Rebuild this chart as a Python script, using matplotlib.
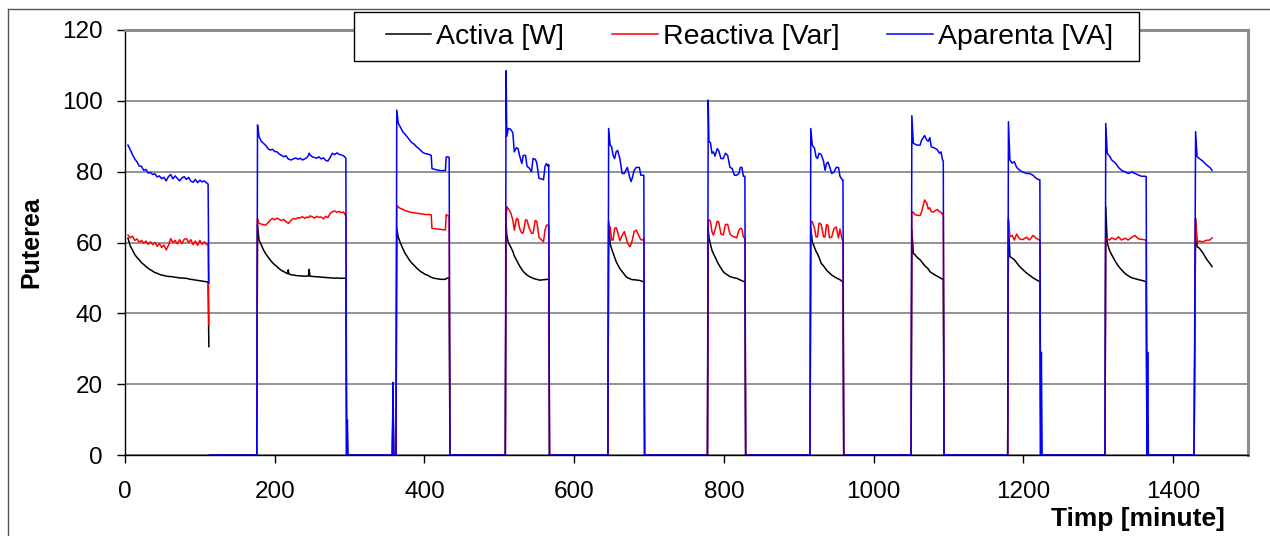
import numpy as np
import matplotlib
matplotlib.use("Agg")
import matplotlib.pyplot as plt
from matplotlib.lines import Line2D
from matplotlib.patches import Rectangle

plt.rcParams["font.family"] = ["Liberation Sans", "DejaVu Sans"]

nan = np.nan

# time axis [minute] shared by the three series (one row per on/off period)
minute = [
    4, 7, 10, 13, 16, 19, 22, 25, 28, 31, 34, 37, 40, 43, 46, 49, 52, 55, 58, 61,
    64, 67, 70, 73, 76, 79, 82, 85, 88, 91, 94, 97, 100, 103, 106, 109, 111, 112,
    112.5, 113, 176,
    177, 179, 182, 185, 188, 191, 194, 197, 200, 203, 206, 209, 212, 215, 217, 218,
    219, 222, 225, 228, 231, 234, 237, 240, 243, 245, 246, 247, 250, 253, 256, 259,
    262, 265, 268, 271, 274, 277, 280, 283, 286, 289, 292, 295,
    296, 297, 298, 357, 358, 359, 362,
    363, 365, 368, 371, 374, 377, 380, 383, 386, 389, 392, 395, 398, 401, 404, 407,
    409, 410, 413, 416, 419, 422, 425, 428, 429, 431, 433,
    434, 508,
    509, 510, 512, 515, 518, 520, 523, 525, 527, 530, 532, 535, 537, 540, 543, 545,
    548, 550, 553, 556, 559, 561, 563, 565, 566,
    567, 645,
    646, 648, 650, 652, 654, 656, 658, 661, 664, 667, 669, 671, 674, 676, 678, 680,
    683, 687, 689, 691, 693,
    694, 778,
    779, 780, 782, 784, 786, 788, 791, 793, 796, 799, 802, 805, 808, 811, 814, 817,
    820, 822, 824, 826, 828,
    829, 915,
    916, 918, 921, 923, 925, 927, 930, 933, 935, 937, 939, 941, 944, 947, 950, 953,
    955, 958, 959,
    960, 1050,
    1051, 1053, 1055, 1058, 1062, 1064, 1068, 1071, 1073, 1075, 1077, 1080, 1082,
    1085, 1088, 1090, 1092, 1093,
    1094, 1179,
    1180, 1182, 1185, 1188, 1191, 1195, 1199, 1204, 1208, 1213, 1217, 1221, 1222,
    1223, 1224, 1225, 1309,
    1310, 1312, 1315, 1318, 1323, 1327, 1331, 1336, 1340, 1345, 1349, 1354, 1358,
    1363, 1364,
    1365, 1366, 1367, 1428,
    1430, 1432, 1435, 1440, 1444, 1449, 1452,
]

# Activa [W]
activa = [
    61.2, 59.0, 57.9, 56.6, 55.8, 55.1, 54.3, 53.8, 53.2, 52.7, 52.3, 51.9, 51.5, 51.3,
    51.0, 50.8, 50.7, 50.5, 50.4, 50.4, 50.3, 50.2, 50.1, 50.0, 50.0, 49.9, 49.9, 49.7,
    49.6, 49.5, 49.4, 49.3, 49.2, 49.1, 49.0, 48.9, 48.9, 30.6,
    nan, 0, 0,
    65.0, 60.7, 59.3, 57.9, 56.8, 55.9, 55.1, 54.3, 53.7, 53.2, 52.6, 52.1, 51.8, 51.4,
    51.2, 52.3, 51.1, 50.9, 50.8, 50.7, 50.6, 50.6, 50.5, 50.5, 50.5, 50.5, 52.4, 50.5,
    50.4, 50.4, 50.3, 50.3, 50.2, 50.2, 50.1, 50.1, 50.0, 50.0, 49.9, 50.0, 49.9, 49.9,
    49.9, 49.9,
    0, 0, 0, 0, 13.0, 0, 0,
    64.0, 61.5, 59.8, 58.3, 57.0, 56.0, 55.0, 54.2, 53.6, 52.9, 52.3, 51.8, 51.4, 51.0,
    50.8, 50.4, 50.2, 50.1, 49.9, 49.8, 49.7, 49.6, 49.6, 49.6, 49.8, 50.0, 50.0,
    0, 0,
    65.4, 62.0, 60.0, 58.8, 57.5, 56.2, 55.0, 54.2, 53.4, 52.4, 51.8, 51.2, 50.8, 50.4,
    50.1, 49.9, 49.7, 49.6, 49.4, 49.4, 49.5, 49.5, 49.6, 49.6, 49.6,
    0, 0,
    65.9, 59.6, 58.2, 57.0, 55.8, 54.6, 53.8, 52.6, 51.8, 51.0, 50.4, 50.1, 49.8, 49.6,
    49.5, 49.5, 49.4, 49.3, 49.2, 49.0, 49.0,
    0, 0,
    64.0, 61.5, 59.5, 57.8, 56.8, 56.0, 54.6, 53.8, 52.8, 51.8, 51.2, 50.8, 50.4, 50.2,
    50.0, 49.9, 49.6, 49.4, 49.2, 49.0, 49.0,
    0, 0,
    64.0, 60.2, 58.6, 57.5, 56.8, 55.8, 54.1, 53.4, 52.8, 52.2, 51.8, 51.4, 50.8, 50.4,
    50.0, 49.7, 49.5, 49.0, 49.0,
    0, 0,
    63.5, 56.9, 56.6, 55.8, 55.1, 54.6, 53.5, 52.9, 52.5, 51.8, 51.5, 51.1, 50.8, 50.5,
    50.1, 49.9, 49.6, 49.5,
    0, 0,
    66.3, 56.0, 55.6, 55.1, 54.3, 53.2, 52.4, 51.4, 50.8, 50.0, 49.5, 49.0, 48.9,
    0, 0, 0, 0,
    70.1, 59.8, 57.8, 56.5, 54.6, 53.3, 52.3, 51.2, 50.6, 50.0, 49.8, 49.5, 49.3, 49.0,
    48.9,
    0, 0, 0, 0,
    66.8, 58.8, 58.4, 57.0, 55.5, 54.1, 53.2,
]

# Reactiva [Var]
reactiva = [
    62.1, 61.3, 61.8, 60.6, 61.0, 60.1, 60.6, 59.8, 60.4, 59.5, 60.2, 59.4, 60.0, 58.9,
    59.7, 58.6, 59.3, 57.9, 59.2, 61.1, 60.0, 60.6, 59.6, 60.8, 59.7, 60.9, 61.1, 60.0,
    60.8, 59.4, 60.4, 59.2, 60.6, 59.5, 60.2, 59.4, 59.6, 36.7,
    nan, 0, 0,
    66.8, 65.4, 65.2, 65.0, 64.9, 65.6, 66.3, 66.8, 66.4, 66.9, 66.5, 66.2, 66.5, 65.9,
    65.6, 65.4, 65.5, 66.3, 66.8, 66.6, 67.0, 66.9, 67.3, 66.8, 67.2, 67.0, 67.2, 67.5,
    67.3, 66.9, 67.4, 67.1, 67.2, 66.7, 67.4, 67.0, 68.2, 68.7, 68.9, 68.5, 68.8, 68.4,
    68.6, 67.5,
    0, 0, 0, 0, 16.0, 0, 0,
    70.6, 70.0, 69.6, 69.4, 69.0, 68.8, 68.6, 68.5, 68.4, 68.3, 68.2, 68.1, 68.0, 67.9,
    67.9, 67.9, 67.8, 64.0, 63.9, 63.8, 63.8, 63.7, 63.6, 63.6, 67.9, 67.6, 67.4,
    0, 0,
    66.0, 70.1, 69.5, 68.5, 66.4, 63.5, 66.8, 66.5, 64.0, 62.6, 62.8, 66.4, 66.3, 64.0,
    62.6, 62.6, 66.2, 66.0, 61.4, 60.8, 60.2, 63.5, 64.9, 64.9, 64.5,
    0, 0,
    65.0, 64.4, 60.7, 60.7, 64.0, 64.2, 63.0, 60.5, 62.0, 63.1, 61.5, 60.0, 58.8, 59.5,
    61.0, 63.1, 63.5, 61.6, 60.8, 60.7, 61.0,
    0, 0,
    66.0, 66.4, 66.0, 63.0, 62.1, 63.5, 66.0, 65.8, 62.4, 62.1, 65.1, 65.1, 62.4, 61.8,
    61.6, 61.3, 63.5, 64.0, 63.8, 61.5, 61.3,
    0, 0,
    65.9, 65.9, 64.0, 61.6, 61.6, 65.5, 65.1, 61.6, 61.6, 65.1, 64.8, 61.3, 61.6, 63.9,
    64.4, 61.3, 63.8, 60.7, 60.7,
    0, 0,
    68.7, 68.5, 67.9, 67.7, 67.6, 68.6, 72.0, 71.1, 69.4, 69.8, 68.7, 68.6, 69.0, 69.3,
    68.7, 68.5, 67.9, 68.3,
    0, 0,
    66.8, 61.6, 62.0, 60.7, 62.4, 61.0, 60.8, 61.5, 60.7, 62.0, 61.2, 60.7, 60.6,
    0, 0, 0, 0,
    61.3, 61.0, 60.7, 61.3, 60.8, 61.6, 60.7, 61.2, 60.7, 61.5, 62.0, 61.0, 60.9, 60.7,
    60.7,
    0, 0, 0, 0,
    66.8, 60.2, 60.4, 60.2, 60.6, 60.7, 61.3,
]

# Aparenta [VA]
aparenta = [
    87.5, 86.2, 84.8, 83.6, 82.8, 81.6, 81.5, 80.4, 80.6, 79.6, 79.8, 79.2, 79.4, 78.5,
    78.8, 78.0, 78.4, 77.4, 78.6, 79.2, 78.0, 78.8, 78.1, 77.4, 78.2, 78.6, 77.8, 78.4,
    77.3, 77.0, 77.8, 76.9, 77.6, 77.1, 77.4, 76.8, 76.5, 48.5,
    nan, 0, 0,
    93.2, 89.9, 88.6, 88.0, 87.4, 86.5, 86.1, 86.3, 85.7, 85.6, 85.0, 84.6, 84.2, 84.5,
    83.9, 83.6, 83.5, 83.3, 83.6, 83.9, 83.5, 83.8, 83.3, 83.6, 84.0, 84.6, 85.2, 84.8,
    84.2, 84.0, 83.8, 84.2, 83.6, 83.9, 83.2, 83.0, 84.0, 85.2, 84.8, 85.3, 84.9, 84.7,
    84.5, 83.8,
    0, 10.0, 0, 0, 20.5, 0, 0,
    97.4, 93.7, 92.5, 91.3, 90.6, 89.8, 89.0, 88.2, 87.8, 87.1, 86.6, 86.0, 85.4, 85.1,
    85.0, 84.8, 84.6, 80.9, 80.7, 80.5, 80.4, 80.3, 80.3, 80.3, 84.1, 84.2, 84.0,
    0, 0,
    108.5, 90.0, 92.2, 92.0, 91.0, 85.6, 86.8, 86.5, 84.6, 82.3, 84.6, 84.6, 81.5, 81.0,
    80.0, 83.7, 83.5, 82.5, 78.1, 78.0, 77.7, 81.5, 82.3, 81.5, 82.0,
    0, 0,
    92.2, 87.5, 87.0, 84.6, 83.7, 85.6, 86.0, 83.7, 79.5, 79.5, 80.4, 81.2, 78.5, 77.2,
    78.5, 80.4, 81.2, 81.2, 79.0, 79.0, 79.0,
    0, 0,
    100.2, 88.5, 88.2, 85.2, 85.6, 84.4, 86.5, 86.0, 83.7, 83.7, 85.2, 84.6, 81.2, 80.9,
    79.0, 79.0, 79.5, 81.2, 81.2, 78.7, 78.7,
    0, 0,
    92.2, 87.5, 86.6, 84.2, 83.7, 85.2, 84.8, 83.0, 80.4, 82.3, 82.7, 81.5, 79.5, 79.9,
    81.2, 81.2, 78.7, 77.7, 77.7,
    0, 0,
    95.8, 88.0, 87.8, 87.5, 87.5, 88.9, 90.2, 88.9, 88.6, 89.6, 87.0, 86.8, 86.6, 86.2,
    85.2, 85.6, 83.3, 83.0,
    0, 0,
    94.1, 83.3, 82.4, 82.8, 81.2, 80.4, 79.9, 79.5, 79.5, 79.0, 78.1, 77.7, 77.7,
    0, 29.0, 0, 0,
    93.6, 85.2, 84.4, 83.3, 82.4, 81.2, 80.4, 79.9, 79.5, 79.9, 79.5, 79.0, 78.7, 78.7,
    78.6,
    0, 29.0, 0, 0,
    91.3, 84.2, 83.7, 82.9, 82.0, 81.2, 80.4,
]

series_labels = ["Activa [W]", "Reactiva [Var]", "Aparenta [VA]"]
series_colors = ["#000000", "#ff0000", "#0000ff"]
x_ticks = [0, 200, 400, 600, 800, 1000, 1200, 1400]
y_ticks = [0, 20, 40, 60, 80, 100, 120]

W, H = 1270, 536
fig = plt.figure(figsize=(W / 100, H / 100), dpi=100)
ax = fig.add_axes([125 / W, 1 - 455 / H, (1248 - 125) / W, (455 - 30) / H])

handles = []
for vals, lab, col in zip([activa, reactiva, aparenta], series_labels, series_colors):
    line, = ax.plot(minute, vals, color=col, lw=1.1, label=lab, zorder=3)
    handles.append(line)

ax.set_xlim(0, 1500)
ax.set_ylim(0, 120)
ax.set_xticks(x_ticks)
ax.set_yticks(y_ticks)
ax.tick_params(axis="both", direction="out", length=6, width=1, labelsize=17.5)
ax.tick_params(axis="x", pad=13)
ax.tick_params(axis="y", pad=10)
ax.yaxis.grid(True, color="#808080", lw=1.2)
ax.set_axisbelow(True)

for s in ["left", "bottom"]:
    ax.spines[s].set_color("black")
    ax.spines[s].set_linewidth(1.0)
for s in ["top", "right"]:
    ax.spines[s].set_color("#8c8c8c")
    ax.spines[s].set_linewidth(2.2)

# legend box drawn separately so its padding matches the original
fig.add_artist(Rectangle((354 / W, 1 - 61 / H), (1139 - 354) / W, 49 / H,
                         transform=fig.transFigure, facecolor="white",
                         edgecolor="black", lw=1.0, zorder=9))
leg = fig.legend(handles=handles, labels=series_labels, loc="center",
                 bbox_to_anchor=(749.5 / W, 1 - 36.5 / H),
                 bbox_transform=fig.transFigure, ncol=3, fontsize=20.5,
                 frameon=False, handlelength=1.6, handletextpad=0.18,
                 columnspacing=1.68, borderpad=0.2)
leg.set_zorder(10)

fig.text(1225 / W, 1 - 519 / H, "Timp [minute]", ha="right", va="center",
         fontsize=19, fontweight="bold")
fig.text(31 / W, 1 - 242 / H, "Puterea", rotation=90, ha="center", va="center",
         fontsize=18, fontweight="bold")

# outer chart frame (left and top edges visible)
fig.add_artist(Line2D([8 / W, 8 / W], [0, 1 - 9 / H], transform=fig.transFigure,
                      color="#555555", lw=1.0))
fig.add_artist(Line2D([8 / W, 1], [1 - 9 / H, 1 - 9 / H], transform=fig.transFigure,
                      color="#555555", lw=1.0))

fig.savefig("out.png", dpi=100)
